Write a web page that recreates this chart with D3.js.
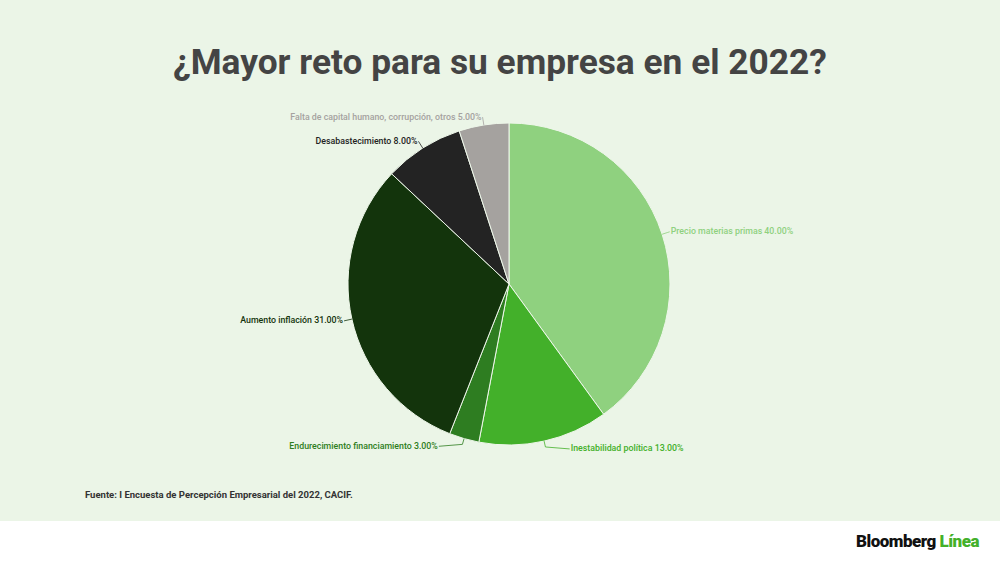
<!DOCTYPE html>
<html>
<head>
<meta charset="utf-8">
<script src="https://cdn.jsdelivr.net/npm/d3@7"></script>
<style>
  html, body { margin: 0; padding: 0; background: #fff; }
  svg { display: block; font-family: Roboto, "Noto Sans", sans-serif; }
</style>
</head>
<body>
<div id="chart"></div>
<script>
// Datos del gráfico
const categories = [
    "Precio materias primas",
    "Inestabilidad política",
    "Endurecimiento financiamiento",
    "Aumento inflación",
    "Desabastecimiento",
    "Falta de capital humano, corrupción, otros"
];
const values = [40, 13, 3, 31, 8, 5];
const colors = ["#8fd17f", "#43b02a", "#2e7d21", "#13340c", "#232323", "#a5a29f"];

const width = 1000, height = 562;
const cx = 509, cy = 284, radius = 161;

const svg = d3.select("#chart")
    .append("svg")
    .attr("width", width)
    .attr("height", height);

// Fondo verde claro y franja blanca inferior
svg.append("rect").attr("width", width).attr("height", 521).attr("fill", "#ebf5e7");
svg.append("rect").attr("y", 521).attr("width", width).attr("height", height - 521).attr("fill", "#ffffff");

// Título
svg.append("text")
    .attr("x", 500)
    .attr("y", 74)
    .attr("text-anchor", "middle")
    .attr("font-size", 35.3)
    .attr("font-weight", 700)
    .attr("fill", "#444444")
    .text("¿Mayor reto para su empresa en el 2022?");

// Pie
const pie = d3.pie().sort(null).value(d => d.value);
const arcs = pie(categories.map((c, i) => ({ name: c, value: values[i], color: colors[i] })));
const arc = d3.arc().innerRadius(0).outerRadius(radius);
const total = d3.sum(values);

const g = svg.append("g").attr("transform", "translate(" + cx + "," + cy + ")");

g.selectAll(".slice")
    .data(arcs)
    .enter()
    .append("path")
    .attr("class", "slice")
    .attr("d", arc)
    .attr("fill", d => d.data.color)
    .attr("stroke", "#eef7ea")
    .attr("stroke-width", 1);

// Etiquetas con líneas guía
arcs.forEach(d => {
    const a = (d.startAngle + d.endAngle) / 2;
    const s = Math.sin(a), c = Math.cos(a);
    const side = s >= 0 ? 1 : -1;
    // desplazamiento horizontal para las etiquetas de abajo
    const shift = side * 25 * Math.max(0, -c - 0.5) * 2;
    const p0 = [radius * s, -radius * c];
    const p1 = [(radius + 6) * s, -(radius + 6) * c];
    const p2 = [(radius + 8) * s + shift, -(radius + 8) * c];

    g.append("path")
        .attr("d", "M" + p0 + "L" + p1 + "L" + p2)
        .attr("fill", "none")
        .attr("stroke", d.data.color)
        .attr("stroke-width", 0.8);

    g.append("text")
        .attr("x", p2[0] + side * 1)
        .attr("y", p2[1] + 2.5)
        .attr("text-anchor", side > 0 ? "start" : "end")
        .attr("font-size", 8.8)
        .attr("font-weight", 500)
        .attr("fill", d.data.color)
        .text(d.data.name + " " + (d.data.value / total * 100).toFixed(2) + "%");
});

// Fuente
svg.append("text")
    .attr("x", 85)
    .attr("y", 498)
    .attr("font-size", 9.5)
    .attr("font-weight", 700)
    .attr("fill", "#333333")
    .text("Fuente: I Encuesta de Percepción Empresarial del 2022, CACIF.");

// Logo
const logo = svg.append("text")
    .attr("x", 979)
    .attr("y", 547)
    .attr("text-anchor", "end")
    .attr("font-size", 17)
    .attr("font-weight", 900)
    .attr("letter-spacing", -0.5);
logo.append("tspan").attr("fill", "#111111").text("Bloomberg ");
logo.append("tspan").attr("fill", "#43b02a").text("Línea");
</script>
</body>
</html>
